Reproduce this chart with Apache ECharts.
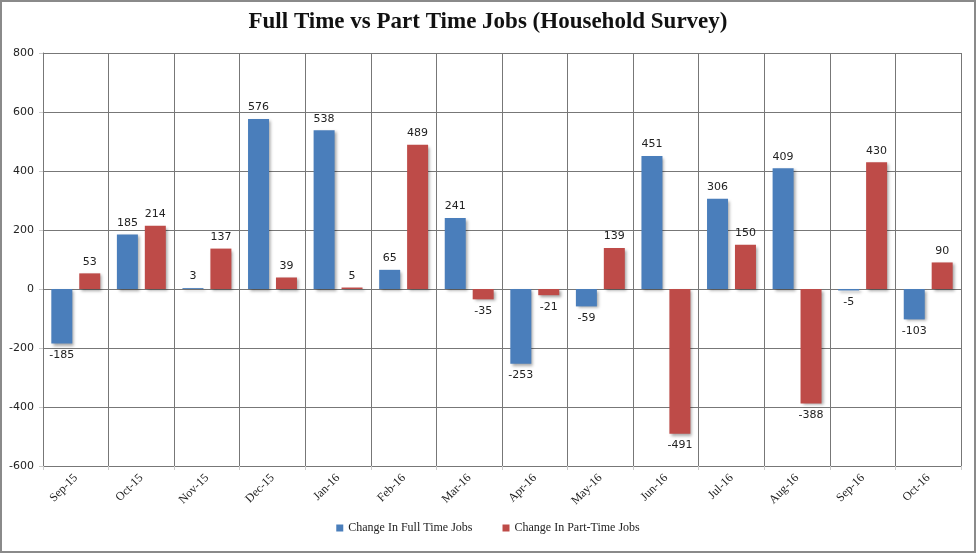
<!DOCTYPE html>
<html>
<head>
<meta charset="utf-8">
<script src="https://cdn.jsdelivr.net/npm/echarts@6/dist/echarts.min.js"></script>
<style>
  html, body { margin: 0; padding: 0; background: #fff; }
</style>
</head>
<body>
<div id="jobs_chart" style="width: 976px; height: 553px"></div>
<script>
var months = ["Sep-15", "Oct-15", "Nov-15", "Dec-15", "Jan-16", "Feb-16", "Mar-16",
  "Apr-16", "May-16", "Jun-16", "Jul-16", "Aug-16", "Sep-16", "Oct-16"];
var fullTime = [-185, 185, 3, 576, 538, 65, 241, -253, -59, 451, 306, 409, -5, -103];
var partTime = [53, 214, 137, 39, 5, 489, -35, -21, 139, -491, 150, -388, 430, 90];

var serif = "'Liberation Serif', 'DejaVu Serif', serif";
var sans = "'DejaVu Sans', 'Liberation Sans', sans-serif";

function withLabels(arr) {
  // positive values get the label above, negative ones below
  return arr.map(function (v) {
    return { value: v, label: { position: v < 0 ? "bottom" : "top" } };
  });
}

var myChart = echarts.init(document.getElementById("jobs_chart"));
var option = {
  backgroundColor: "#fff",
  animation: false,
  title: {
    text: "Full Time vs Part Time Jobs (Household Survey)",
    left: "center",
    top: 6,
    textStyle: {
      fontFamily: serif,
      fontSize: 23,
      fontWeight: "bold",
      color: "#111",
    },
  },
  legend: {
    bottom: 14,
    left: "center",
    icon: "rect",
    itemWidth: 7,
    itemHeight: 7,
    itemGap: 30,
    textStyle: { fontFamily: serif, fontSize: 12, color: "#222" },
    data: ["Change In Full Time Jobs", "Change In Part-Time Jobs"],
  },
  graphic: [
    {
      type: "rect",
      shape: { x: 1, y: 1, width: 974, height: 551 },
      style: { fill: "none", stroke: "#8a8a8a", lineWidth: 2 },
      silent: true,
    },
  ],
  grid: {
    left: 43,
    right: 15,
    top: 53,
    bottom: 87,
  },
  xAxis: [
    {
      type: "category",
      data: months,
      boundaryGap: true,
      axisLine: { onZero: false, lineStyle: { color: "#777" } },
      axisTick: { show: true, length: 4, lineStyle: { color: "#ccc" } },
      axisLabel: {
        rotate: 45,
        margin: 10,
        fontFamily: serif,
        fontSize: 12,
        color: "#222",
      },
      splitLine: { show: true, lineStyle: { color: "#777", width: 1 } },
    },
  ],
  yAxis: [
    {
      type: "value",
      min: -600,
      max: 800,
      interval: 200,
      axisLine: { show: true, lineStyle: { color: "#777" } },
      axisTick: { show: true, length: 4, lineStyle: { color: "#ccc" } },
      axisLabel: {
        fontFamily: sans,
        fontSize: 11,
        color: "#222",
        margin: 9,
      },
      splitLine: { lineStyle: { color: "#777", width: 1 } },
    },
  ],
  series: [
    {
      name: "Change In Full Time Jobs",
      type: "bar",
      data: withLabels(fullTime),
      barWidth: 21,
      barGap: "33%",
      itemStyle: {
        color: "#4a7ebb",
        shadowColor: "rgba(0,0,0,0.35)",
        shadowBlur: 3,
        shadowOffsetX: 2,
        shadowOffsetY: 2,
      },
      label: {
        show: true,
        distance: 6,
        fontFamily: sans,
        fontSize: 11,
        color: "#222",
      },
    },
    {
      name: "Change In Part-Time Jobs",
      type: "bar",
      data: withLabels(partTime),
      barWidth: 21,
      itemStyle: {
        color: "#be4b48",
        shadowColor: "rgba(0,0,0,0.35)",
        shadowBlur: 3,
        shadowOffsetX: 2,
        shadowOffsetY: 2,
      },
      label: {
        show: true,
        distance: 6,
        fontFamily: sans,
        fontSize: 11,
        color: "#222",
      },
    },
  ],
};
myChart.setOption(option);
window.onresize = function () {
  myChart.resize();
};
</script>
</body>
</html>
